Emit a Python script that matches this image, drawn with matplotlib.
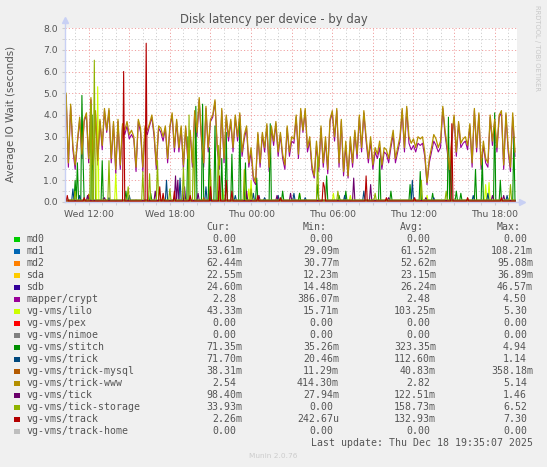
import numpy as np
import matplotlib.pyplot as plt
from matplotlib.patches import Rectangle

W, H = 547, 467

# 10-minute samples from Wed 10:20 to Thu 19:30 (hours since Wed 00:00)
t10 = 10 + 20 / 60 + np.arange(200) / 6
# 5-minute grid for the mostly idle devices
t5 = 10 + 20 / 60 + np.arange(399) / 12

trick_www = [
    5.0, 1.8, 4.5, 2.6, 1.7, 2.8, 3.9, 2.2, 3.8, 4.1,
    2.0, 4.8, 1.7, 4.2, 1.9, 3.8, 2.6, 4.3, 3.3, 4.3,
    2.0, 3.7, 1.5, 3.8, 1.7, 3.6, 3.3, 3.7, 3.1, 3.3,
    3.0, 1.6, 3.8, 3.4, 1.6, 3.5, 3.3, 3.6, 4.0, 3.2,
    1.7, 3.5, 3.4, 3.0, 3.5, 2.0, 3.5, 4.1, 2.5, 3.8,
    2.5, 3.5, 1.7, 3.5, 2.0, 3.3, 1.8, 4.2, 3.2, 4.8,
    3.0, 1.8, 4.4, 2.5, 3.8, 4.0, 4.7, 2.6, 1.7, 4.3,
    2.0, 4.0, 3.0, 3.8, 2.5, 4.0, 3.0, 4.1, 2.3, 3.1,
    3.5, 1.8, 2.5, 1.2, 0.9, 3.2, 1.8, 3.2, 2.5, 3.6,
    1.6, 3.5, 2.8, 3.7, 2.3, 3.2, 2.2, 1.7, 3.5, 2.3,
    3.0, 2.9,
    4.0, 2.2, 4.3, 3.3, 4.3, 2.5, 3.0, 1.7, 1.2, 2.8,
    1.6, 3.5, 1.8, 3.0, 1.5, 3.8, 4.2, 3.0, 4.3, 1.8,
    3.8, 1.4, 2.8, 1.2, 3.0, 1.8, 3.3, 2.2, 4.0, 2.5,
    4.2, 3.0, 2.0, 3.0, 1.7, 2.5, 2.2, 2.8, 1.7, 2.5,
    2.4, 2.0, 2.7, 3.3, 2.0, 2.5, 3.0, 4.3, 2.5, 4.4,
    3.0,
    2.7, 2.9, 2.5, 3.0, 2.9, 3.0, 2.3, 0.9, 2.0, 2.5,
    3.1, 2.9, 2.5, 2.8, 4.4, 3.3, 2.5, 1.5, 3.0, 4.0,
    2.3, 3.7, 2.7, 2.9, 3.0, 2.6, 3.6, 1.8, 4.3, 2.5,
    4.1, 1.7, 2.8, 2.0, 1.8, 4.0, 2.8, 3.8, 2.5, 4.0,
    4.2, 1.7, 4.1, 2.5, 1.6, 4.1, 2.3,
]

mapper_crypt = [
    4.9, 1.6, 4.4, 2.4, 1.5, 2.7, 3.8, 2.0, 3.7, 4.0,
    1.8, 4.7, 1.5, 4.1, 1.7, 3.7, 2.4, 4.2, 3.2, 4.2,
    1.8, 3.6, 1.3, 3.7, 1.5, 3.5, 3.1, 3.5, 2.9, 3.1,
    2.9, 1.4, 3.7, 3.2, 1.4, 3.4, 3.1, 3.5, 3.9, 3.0,
    1.5, 3.4, 3.2, 2.8, 3.4, 1.8, 3.4, 4.0, 2.3, 3.7,
    2.3, 3.4, 1.5, 3.4, 1.8, 3.2, 1.6, 4.1, 3.0, 4.7,
    2.8, 1.6, 4.3, 2.3, 3.7, 3.9, 4.6, 2.4, 1.5, 4.2,
    1.8, 3.9, 2.8, 3.7, 2.3, 3.9, 2.8, 4.0, 2.1, 2.9,
    3.4, 1.6, 2.3, 1.0, 0.8, 3.1, 1.6, 3.1, 2.3, 3.5,
    1.4, 3.4, 2.6, 3.6, 2.1, 3.1, 2.0, 1.5, 3.4, 2.1,
    2.8, 2.7,
    3.9, 2.0, 4.2, 3.2, 4.2, 2.3, 2.8, 1.5, 1.1, 2.6,
    1.4, 3.4, 1.6, 2.8, 1.3, 3.7, 4.1, 2.8, 4.2, 1.6,
    3.7, 1.2, 2.6, 1.1, 2.8, 1.6, 3.2, 2.0, 3.9, 2.3,
    4.1, 2.8, 1.8, 2.8, 1.5, 2.3, 2.0, 2.5, 1.5, 2.3,
    2.2, 1.8, 2.5, 3.1, 1.8, 2.3, 2.8, 4.2, 2.3, 4.3,
    2.7,
    2.4, 2.6, 2.3, 2.7, 2.6, 2.7, 2.1, 0.8, 1.8, 2.3,
    2.8, 2.6, 2.3, 2.5, 4.3, 3.1, 2.3, 1.3, 2.8, 3.9,
    2.1, 3.6, 2.5, 2.7, 2.8, 2.4, 3.5, 1.6, 4.2, 2.3,
    4.0, 1.5, 2.6, 1.8, 1.6, 3.9, 2.6, 3.7, 2.3, 3.9,
    4.1, 1.5, 4.0, 2.3, 1.4, 3.9, 2.1,
]

# idle devices: (hour, peak) spikes, on top of a small baseline
stitch_spikes = [(10.98, 1.0), (11.2, 1.8), (11.49, 4.9), (11.62, 2.0), (12.28, 4.0),
                 (12.97, 1.9), (14.75, 0.5), (16.6, 0.4), (19.3, 3.0), (19.9, 4.4),
                 (20.45, 4.5), (20.9, 2.5), (21.35, 3.5), (21.8, 2.0), (22.2, 3.2),
                 (22.6, 2.2), (23.15, 3.8), (23.6, 1.8), (24.4, 1.1), (25.4, 3.6),
                 (26.3, 0.5), (27.6, 0.4), (28.9, 0.8), (29.6, 1.2), (30.5, 0.3),
                 (31.0, 0.5), (33.5, 2.0), (34.3, 0.5), (35.76, 0.8), (36.5, 1.4),
                 (37.4, 0.4), (38.55, 3.9), (38.75, 1.9), (39.2, 0.5), (39.5, 0.4),
                 (40.6, 1.5), (41.05, 2.0), (41.99, 4.1), (42.4, 1.0), (43.4, 3.0)]
tick_storage_spikes = [(11.0, 0.5), (12.15, 4.5), (12.43, 6.52), (13.46, 1.9), (14.9, 0.7),
                       (16.0, 1.4), (16.5, 1.3), (17.08, 1.9), (18.0, 0.6), (19.0, 1.6),
                       (19.4, 4.0), (19.75, 3.2), (21.0, 1.5), (21.6, 2.6), (23.5, 1.5),
                       (24.0, 0.6), (28.9, 2.1), (30.4, 0.5), (33.2, 0.4), (36.6, 1.0),
                       (38.4, 0.5), (43.2, 0.8)]
lilo_spikes = [(12.65, 5.3), (14.0, 1.3), (17.5, 0.3), (21.9, 0.6), (23.8, 0.6),
               (24.0, 1.0), (27.6, 0.4), (30.1, 0.4), (31.3, 0.3), (37.0, 0.3),
               (41.3, 0.8), (41.6, 0.9)]
track_spikes = [(10.4, 0.3), (11.7, 0.2), (14.57, 6.0), (16.22, 7.3), (17.23, 0.7),
                (17.5, 0.4), (18.3, 0.5), (19.5, 0.3), (21.0, 0.7), (21.7, 1.2),
                (22.2, 1.0), (22.6, 0.5), (24.5, 0.3), (26.2, 0.2), (29.35, 0.9),
                (29.45, 0.7), (32.5, 1.2), (34.0, 0.2), (36.1, 0.2), (38.84, 3.6),
                (40.0, 0.2), (42.5, 0.2)]
trick_spikes = [(10.87, 0.6), (11.3, 0.3), (13.5, 0.2), (15.0, 0.3), (17.77, 1.0),
                (18.76, 1.1), (20.7, 0.7), (21.6, 0.5), (22.8, 0.3), (24.2, 0.4),
                (25.0, 0.2), (26.0, 0.3), (27.2, 0.4), (28.0, 0.2), (30.9, 0.3),
                (32.3, 0.5), (35.93, 1.0), (37.5, 0.2), (40.4, 0.3), (41.5, 0.4),
                (42.9, 0.3)]
tick_spikes = [(11.9, 0.3), (13.2, 0.2), (16.9, 0.5), (18.4, 1.2), (18.6, 1.0),
               (19.1, 0.7), (20.1, 0.4), (23.7, 0.5), (24.6, 0.3), (25.9, 0.3),
               (26.9, 0.4), (31.57, 1.1), (32.8, 0.8), (34.2, 0.2), (36.9, 0.2),
               (41.8, 0.3), (42.7, 0.3)]
md1_spikes = [(12.5, 0.1), (20.0, 0.1), (33.0, 0.09)]
md2_spikes = [(15.5, 0.09), (28.0, 0.08)]
mysql_spikes = [(12.0, 0.36), (20.5, 0.2)]


def build(base, spikes):
    y = np.full(len(t5), base)
    for h, v in spikes:
        y[np.argmin(np.abs(t5 - h))] = v
    return y


names = ['md0', 'md1', 'md2', 'sda', 'sdb', 'mapper/crypt', 'vg-vms/lilo', 'vg-vms/pex',
         'vg-vms/nimoe', 'vg-vms/stitch', 'vg-vms/trick', 'vg-vms/trick-mysql',
         'vg-vms/trick-www', 'vg-vms/tick', 'vg-vms/tick-storage', 'vg-vms/track',
         'vg-vms/track-home']
colors = ['#00CC00', '#0066B3', '#FF8000', '#FFCC00', '#330099', '#990099', '#CCFF00',
          '#FF0000', '#808080', '#008F00', '#00487D', '#B35A00', '#B38F00', '#6B006B',
          '#8FB300', '#B30000', '#BEBEBE']
cur = ['0.00', '53.61m', '62.44m', '22.55m', '24.60m', '2.28', '43.33m', '0.00', '0.00',
       '71.35m', '71.70m', '38.31m', '2.54', '98.40m', '33.93m', '2.26m', '0.00']
mins = ['0.00', '29.09m', '30.77m', '12.23m', '14.48m', '386.07m', '15.71m', '0.00', '0.00',
        '35.26m', '20.46m', '11.29m', '414.30m', '27.94m', '0.00', '242.67u', '0.00']
avgs = ['0.00', '61.52m', '52.62m', '23.15m', '26.24m', '2.48', '103.25m', '0.00', '0.00',
        '323.35m', '112.60m', '40.83m', '2.82', '122.51m', '158.73m', '132.93m', '0.00']
maxs = ['0.00', '108.21m', '95.08m', '36.89m', '46.57m', '4.50', '5.30', '0.00', '0.00',
        '4.94', '1.14', '358.18m', '5.14', '1.46', '6.52', '7.30', '0.00']

series = [
    (t5, build(0.0, [])),
    (t5, build(0.06, md1_spikes)),
    (t5, build(0.05, md2_spikes)),
    (t5, build(0.02, [])),
    (t5, build(0.03, [])),
    (t10, np.array(mapper_crypt)),
    (t5, build(0.04, lilo_spikes)),
    (t5, build(0.0, [])),
    (t5, build(0.0, [])),
    (t5, build(0.07, stitch_spikes)),
    (t5, build(0.07, trick_spikes)),
    (t5, build(0.04, mysql_spikes)),
    (t10, np.array(trick_www)),
    (t5, build(0.08, tick_spikes)),
    (t5, build(0.09, tick_storage_spikes)),
    (t5, build(0.04, track_spikes)),
    (t5, build(0.0, [])),
]

TXT = '#555555'


def fx(px):
    return px / W


def fy(py):
    return 1 - py / H


fig = plt.figure(figsize=(W / 100, H / 100), dpi=100, facecolor='#F0F0F0')
ax = fig.add_axes([fx(65), fy(202), 452 / W, 174 / H], facecolor='white')

for (t, y), c in zip(series, colors):
    ax.plot(t, y, color=c, lw=0.9 if c == '#B38F00' else 0.8)

ax.set_xlim(10.25, 43.65)
ax.set_ylim(0, 8)
major_x = np.arange(12, 43.7, 3)
ax.set_xticks(major_x)
ax.set_xticklabels(['Wed 12:00', '', 'Wed 18:00', '', 'Thu 00:00', '', 'Thu 06:00', '',
                    'Thu 12:00', '', 'Thu 18:00'])
ax.set_xticks(np.arange(11, 43.7, 1), minor=True)
ax.set_yticks(np.arange(0, 8.1, 1))
ax.set_yticklabels(['%.1f' % v for v in np.arange(0, 8.1, 1)])
ax.set_yticks(np.arange(0.5, 8, 1), minor=True)
ax.grid(which='major', color='#F0A0A0', lw=0.7, ls=(0, (1.2, 2.2)))
ax.grid(which='minor', color='#CFCFCF', lw=0.7, ls=(0, (1.2, 2.2)))
ax.set_axisbelow(True)
ax.tick_params(which='both', length=2, color='#CCCCCC', labelcolor=TXT, labelsize=6.7, pad=3)
ax.tick_params(axis='x', which='major', pad=4)
for s in ['top', 'right', 'left', 'bottom']:
    ax.spines[s].set_visible(False)
ax.plot([0, 0], [0, 1.045], transform=ax.transAxes, clip_on=False, color='#C8D0F4', lw=1)
ax.plot([0, 1.012], [0, 0], transform=ax.transAxes, clip_on=False, color='#C8D0F4', lw=1)
ax.plot([0], [1.045], marker='^', ms=4, color='#C8D0F4', transform=ax.transAxes, clip_on=False)
ax.plot([1.012], [0], marker='>', ms=4, color='#C8D0F4', transform=ax.transAxes, clip_on=False)

fig.text(0.5, fy(19), 'Disk latency per device - by day', ha='center', va='center',
         fontsize=8.4, color=TXT)
fig.text(fx(11), fy(114), 'Average IO Wait (seconds)', rotation=90, ha='center', va='center',
         fontsize=7.4, color=TXT)
fig.text(fx(537), fy(5), 'RRDTOOL / TOBI OETIKER', rotation=270, ha='center', va='top',
         fontsize=4.9, color='#C8C8C8')

# legend block
mono = 'DejaVu Sans Mono'
cw = 5.98
for label, x in [('Cur:', 206.8), ('Min:', 303), ('Avg:', 400), ('Max:', 497)]:
    fig.text(fx(x), fy(227), label, ha='left', va='center', fontsize=7.15, family=mono, color=TXT)
edges = [242.4, 339, 436, 533]
for i, name in enumerate(names):
    yy = 239 + 12 * i
    fig.patches.append(Rectangle((fx(14), fy(yy + 3)), 5.5 / W, 5.5 / H, transform=fig.transFigure,
                                 facecolor=colors[i], edgecolor='none'))
    fig.text(fx(26.2), fy(yy), name, ha='left', va='center', fontsize=7.15, family=mono, color=TXT)
    for col, edge in zip([cur, mins, avgs, maxs], edges):
        s = col[i]
        right = edge if s[-1] in 'mu' else edge - cw
        fig.text(fx(right), fy(yy), s, ha='right', va='center', fontsize=7.15, family=mono, color=TXT)

fig.text(fx(533), fy(443), 'Last update: Thu Dec 18 19:35:07 2025', ha='right', va='center',
         fontsize=7.15, family=mono, color=TXT)
fig.text(0.5, fy(456), 'Munin 2.0.76', ha='center', va='center', fontsize=5.3, color='#CCCCCC')

fig.savefig('out.png', dpi=100, facecolor=fig.get_facecolor())
